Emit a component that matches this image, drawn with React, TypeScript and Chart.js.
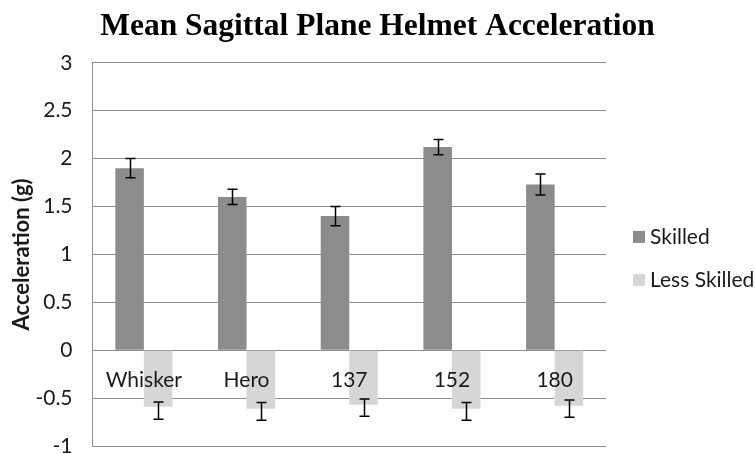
import React, { useEffect, useRef } from "react";
import { Chart, registerables } from "chart.js";

Chart.register(...registerables);

const chartTitle = "Mean Sagittal Plane Helmet Acceleration";
const yAxisTitle = "Acceleration (g)";
const categories = ["Whisker", "Hero", "137", "152", "180"];
const seriesNames = ["Skilled", "Less Skilled"];
const skilled = [1.9, 1.6, 1.4, 2.12, 1.73];
const skilledErrPlus = [0.1, 0.08, 0.1, 0.08, 0.11];
const skilledErrMinus = [0.1, 0.08, 0.1, 0.08, 0.11];
const lessSkilled = [-0.59, -0.61, -0.57, -0.61, -0.58];
const lessErrPlus = [0.05, 0.065, 0.06, 0.065, 0.06];
const lessErrMinus = [0.13, 0.12, 0.12, 0.12, 0.12];
const yTickMin = -1;
const yTickMax = 3;
const yTickStep = 0.5;

const SANS = "Lato";
const DARK = "#8c8c8c";
const LIGHT = "#d6d6d6";
const GRID = "#8e8e8e";

const errPlus = [skilledErrPlus, lessErrPlus];
const errMinus = [skilledErrMinus, lessErrMinus];

const errorBarPlugin = {
  id: "errorBars",
  afterDatasetsDraw(chart: any) {
    const ctx = chart.ctx;
    const y = chart.scales.y;
    // category labels drawn at the zero line
    ctx.save();
    ctx.font = `21px ${SANS}`;
    ctx.fillStyle = "#1a1a1a";
    ctx.textAlign = "center";
    ctx.textBaseline = "middle";
    const x = chart.scales.x;
    const zeroPx = y.getPixelForValue(0);
    categories.forEach((c, i) => {
      ctx.fillText(c, x.getPixelForValue(i), zeroPx + 30);
    });
    ctx.restore();

    ctx.save();
    ctx.strokeStyle = "#000";
    ctx.lineWidth = 1.5;
    chart.data.datasets.forEach((ds: any, di: number) => {
      const meta = chart.getDatasetMeta(di);
      meta.data.forEach((bar: any, i: number) => {
        const v = ds.data[i];
        const top = y.getPixelForValue(v + errPlus[di][i]);
        const bot = y.getPixelForValue(v - errMinus[di][i]);
        const bx = Math.round(bar.x) + 0.5;
        ctx.beginPath();
        ctx.moveTo(bx, top);
        ctx.lineTo(bx, bot);
        ctx.moveTo(bx - 5, top);
        ctx.lineTo(bx + 5, top);
        ctx.moveTo(bx - 5, bot);
        ctx.lineTo(bx + 5, bot);
        ctx.stroke();
      });
    });
    ctx.restore();
  },
};

const legendPlugin = {
  id: "sideLegend",
  afterDraw(chart: any) {
    const ctx = chart.ctx;
    const area = chart.chartArea;
    const colors = [DARK, LIGHT];
    const gap = 43;
    const startY = (area.top + area.bottom) / 2 + 4 - gap / 2;
    ctx.save();
    ctx.font = `21px ${SANS}`;
    ctx.textBaseline = "middle";
    ctx.textAlign = "left";
    seriesNames.forEach((name, i) => {
      const cy = startY + i * gap;
      ctx.fillStyle = colors[i];
      ctx.fillRect(area.right + 27, cy - 6, 12, 12);
      ctx.fillStyle = "#1a1a1a";
      ctx.fillText(name, area.right + 44, cy);
    });
    ctx.restore();
  },
};

export default function App() {
  const ref = useRef<HTMLCanvasElement | null>(null);
  useEffect(() => {
    document.body.style.margin = "0";
    const chart = new Chart(ref.current as HTMLCanvasElement, {
      type: "bar",
      data: {
        labels: categories,
        datasets: [
          {
            label: seriesNames[0],
            data: skilled,
            backgroundColor: DARK,
            categoryPercentage: 0.556,
            barPercentage: 1,
            yAxisID: "y",
          },
          {
            label: seriesNames[1],
            data: lessSkilled,
            backgroundColor: LIGHT,
            categoryPercentage: 0.556,
            barPercentage: 1,
            yAxisID: "y",
          },
        ],
      },
      options: {
        animation: false,
        responsive: true,
        maintainAspectRatio: false,
        layout: { padding: { left: 0, right: 0, top: 6, bottom: 8 } },
        plugins: {
          legend: { display: false },
          tooltip: { enabled: false },
          title: {
            display: true,
            text: chartTitle,
            color: "#000",
            font: { family: "Liberation Serif", size: 31.5, weight: "bold" },
            padding: { top: 2, bottom: 17 },
          },
        },
        scales: {
          x: {
            display: false,
          },
          y: {
            position: "left",
            min: yTickMin,
            max: yTickMax,
            ticks: {
              stepSize: yTickStep,
              color: "#1a1a1a",
              padding: 0,
              font: { family: SANS, size: 21, lineHeight: 0.7 },
              callback: (v: any) => String(Number(v)),
            },
            grid: {
              color: GRID,
              lineWidth: 1,
              drawTicks: true,
              tickLength: 20,
              tickColor: "rgba(0,0,0,0)",
            },
            border: { display: true, color: GRID, width: 1 },
            title: {
              display: true,
              text: yAxisTitle,
              color: "#1a1a1a",
              font: { family: SANS, size: 22, weight: "bold" },
              padding: { top: 9, bottom: 0 },
            },
          },
          legendSpace: {
            type: "linear",
            position: "right",
            display: true,
            grid: { display: false },
            border: { display: false },
            ticks: { display: false },
            afterFit: (s: any) => {
              s.width = 149;
            },
          },
        },
      },
      plugins: [errorBarPlugin, legendPlugin],
    });
    return () => chart.destroy();
  }, []);
  return (
    <div style={{ width: 755, height: 454, position: "relative" }}>
      <canvas ref={ref} />
    </div>
  );
}
